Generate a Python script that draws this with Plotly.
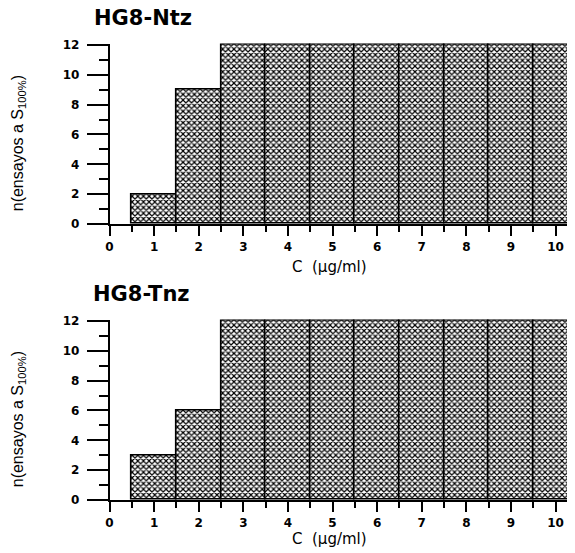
import plotly.graph_objects as go

concentrations = [1, 2, 3, 4, 5, 6, 7, 8, 9, 10]
ntz_counts = [2, 9, 12, 12, 12, 12, 12, 12, 12, 12]
tnz_counts = [3, 6, 12, 12, 12, 12, 12, 12, 12, 12]
panel_titles = ["HG8-Ntz", "HG8-Tnz"]
x_tick_vals = list(range(0, 11))
x_minor_vals = [0.5 + k for k in range(0, 11)]
y_tick_vals = [0, 2, 4, 6, 8, 10, 12]
y_minor_vals = [1, 3, 5, 7, 9, 11]

W, H = 575, 553
OFF = 8  # page offset of the figure inside the window
x0px = 109.5 - OFF
px_per_unit = 44.6
xmax = (W - x0px) / px_per_unit
ytop = 12.1
px_per_y = 179 / 12

fig = go.Figure()

pattern = dict(shape="x", size=4, solidity=0.5, fgcolor="#000000", bgcolor="#ffffff")

for i, counts in enumerate([ntz_counts, tnz_counts]):
    fig.add_trace(go.Bar(
        x=concentrations, y=counts, width=1.0,
        marker=dict(color="#ffffff", pattern=pattern,
                    line=dict(color="#000000", width=1.6)),
        xaxis="x" if i == 0 else "x2", yaxis="y" if i == 0 else "y2",
        showlegend=False, hoverinfo="skip",
    ))

# (pixel of y=0, panel title y, x-axis title y, panel title x) in window pixels
panels = [(224, 18, 267, 143), (500, 294, 539, 141)]

tick_font = dict(family="DejaVu Sans", size=12, color="#000000", weight="bold")

layout = dict(
    template="none",
    width=W, height=H, margin=dict(l=0, r=0, t=0, b=0, autoexpand=False),
    plot_bgcolor="#ffffff", paper_bgcolor="#ffffff",
    bargap=0, font=dict(family="DejaVu Sans", color="#000000"),
)

for i, (p0w, ptit, ttit, titx) in enumerate(panels):
    sx = "" if i == 0 else "2"
    p0 = p0w - OFF
    ptop = p0 - ytop * px_per_y
    layout["xaxis" + sx] = dict(
        domain=[x0px / W, 1], range=[0, xmax], automargin=False,
        anchor="y" + sx, tickmode="array", tickvals=x_tick_vals,
        showgrid=False, zeroline=False, showline=True,
        linecolor="#000000", linewidth=1.5,
        ticks="outside", ticklen=10, tickwidth=1.5, tickcolor="#000000",
        minor=dict(tickvals=x_minor_vals, ticklen=6, tickwidth=1.5,
                   tickcolor="#000000", ticks="outside", showgrid=False),
        tickfont=tick_font, ticklabelstandoff=1,
    )
    layout["yaxis" + sx] = dict(
        domain=[1 - p0 / H, 1 - ptop / H], range=[0, ytop], automargin=False,
        anchor="x" + sx, tickmode="array", tickvals=y_tick_vals,
        showgrid=False, zeroline=False, showline=True,
        linecolor="#000000", linewidth=1.5,
        ticks="outside", ticklen=21, tickwidth=1.5, tickcolor="#000000",
        minor=dict(tickvals=y_minor_vals, ticklen=9, tickwidth=1.5,
                   tickcolor="#000000", ticks="outside", showgrid=False),
        tickfont=tick_font, ticklabelstandoff=5,
    )

fig.update_layout(**layout)

annotations = []
for i, (p0w, ptit, ttit, titx) in enumerate(panels):
    p0 = p0w - OFF
    ptop = p0 - ytop * px_per_y
    annotations.append(dict(
        text=panel_titles[i], x=(titx - OFF) / W, y=1 - (ptit - OFF) / H,
        xref="paper", yref="paper",
        showarrow=False, xanchor="center", yanchor="middle",
        font=dict(family="DejaVu Sans", size=21, color="#000000", weight="bold"),
    ))
    annotations.append(dict(
        text="C  (µg/ml)", x=(329 - OFF) / W, y=1 - (ttit - OFF) / H,
        xref="paper", yref="paper",
        showarrow=False, xanchor="center", yanchor="middle",
        font=dict(family="DejaVu Sans", size=15, color="#000000"),
    ))
    annotations.append(dict(
        text="n(ensayos a S<sub>100%</sub>)", x=(18 - OFF) / W,
        y=1 - ((p0 + ptop) / 2 + 9.5) / H,
        xref="paper", yref="paper", textangle=-90,
        showarrow=False, xanchor="center", yanchor="middle",
        font=dict(family="Liberation Sans Narrow, Liberation Sans", size=16, color="#000000"),
    ))
fig.update_layout(annotations=annotations)

fig.write_html("out.html")
